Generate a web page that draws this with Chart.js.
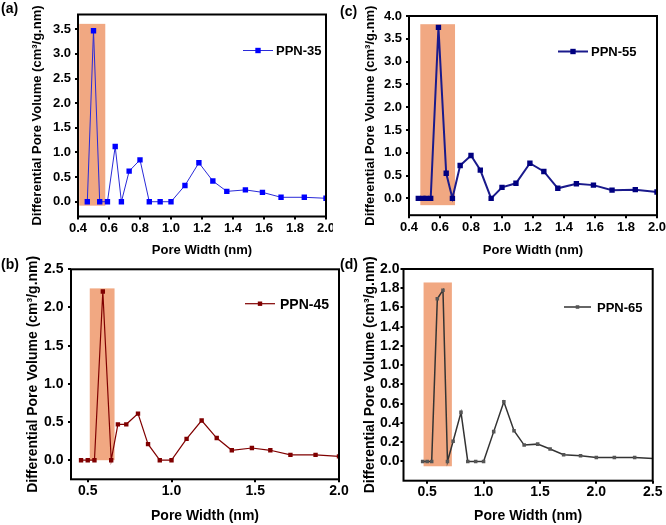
<!DOCTYPE html>
<html>
<head>
<meta charset="utf-8">
<script src="https://cdn.jsdelivr.net/npm/chart.js@4.4.0/dist/chart.umd.min.js"></script>
<style>
  body { margin: 0; background: #fff; }
  #wrap { position: relative; width: 666px; height: 525px; overflow: hidden; background: #fff; }
  canvas { position: absolute; }
  .tag { position: absolute; font: bold 14px "Liberation Sans", Arial, sans-serif; color: #000; }
</style>
</head>
<body>
<div id="wrap">
  <canvas id="chartA" width="333" height="262" style="left:0px;top:0px"></canvas>
  <canvas id="chartC" width="333" height="262" style="left:333px;top:0px"></canvas>
  <canvas id="chartB" width="350" height="275" style="left:0px;top:250px"></canvas>
  <canvas id="chartD" width="326" height="275" style="left:340px;top:250px"></canvas>
  <div class="tag" style="left:1px;top:0px">(a)</div>
  <div class="tag" style="left:340px;top:3px">(c)</div>
  <div class="tag" style="left:1px;top:256px">(b)</div>
  <div class="tag" style="left:340px;top:256px">(d)</div>
</div>
<script>
// pore widths (nm) and differential pore volume (cm3/g.nm)
const widthA = [0.46, 0.50, 0.54, 0.59, 0.64, 0.68, 0.73, 0.80, 0.86, 0.93, 1.00, 1.09, 1.18, 1.27, 1.36, 1.48, 1.59, 1.71, 1.86, 2.00];
const volA = [0, 3.47, 0, 0, 1.12, 0, 0.62, 0.85, 0, 0, 0, 0.33, 0.79, 0.42, 0.21, 0.24, 0.19, 0.09, 0.09, 0.07];

const widthB = [0.46, 0.50, 0.54, 0.59, 0.64, 0.68, 0.73, 0.80, 0.86, 0.93, 1.00, 1.09, 1.18, 1.27, 1.36, 1.48, 1.59, 1.71, 1.86, 2.00];
const volB = [0, 0, 0, 2.21, 0, 0.47, 0.47, 0.61, 0.21, 0, 0, 0.28, 0.52, 0.29, 0.13, 0.16, 0.13, 0.07, 0.07, 0.05];

const widthC = [0.46, 0.49, 0.51, 0.54, 0.59, 0.64, 0.68, 0.73, 0.80, 0.86, 0.93, 1.00, 1.09, 1.18, 1.27, 1.36, 1.48, 1.59, 1.71, 1.86, 2.00];
const volC = [0, 0, 0, 0, 3.75, 0.55, 0, 0.72, 0.94, 0.62, 0, 0.24, 0.33, 0.77, 0.59, 0.22, 0.32, 0.29, 0.18, 0.19, 0.14];

const widthD = [0.46, 0.50, 0.54, 0.59, 0.64, 0.68, 0.73, 0.80, 0.86, 0.93, 1.00, 1.09, 1.18, 1.27, 1.36, 1.48, 1.59, 1.71, 1.86, 2.00, 2.16, 2.34, 2.53];
const volD = [0, 0, 0, 1.69, 1.78, 0, 0.21, 0.51, 0, 0, 0, 0.31, 0.62, 0.32, 0.17, 0.18, 0.13, 0.07, 0.06, 0.04, 0.04, 0.04, 0.03];

// highlighted micropore range [xFrom, xTo, yFrom, yTo]
const boxA = [0.408, 0.576, -0.08, 3.61];
const boxB = [0.512, 0.66, 0, 2.25];
const boxC = [0.473, 0.697, -0.15, 3.82];
const boxD = [0.468, 0.719, -0.05, 1.86];

// tick labels
const ticksXA = [0.4, 0.6, 0.8, 1.0, 1.2, 1.4, 1.6, 1.8, 2.0];
const ticksYA = [0, 0.5, 1.0, 1.5, 2.0, 2.5, 3.0, 3.5];
const ticksXC = [0.4, 0.6, 0.8, 1.0, 1.2, 1.4, 1.6, 1.8, 2.0];
const ticksYC = [0, 0.5, 1.0, 1.5, 2.0, 2.5, 3.0, 3.5, 4.0];
const ticksXB = [0.5, 1.0, 1.5, 2.0];
const ticksYB = [0, 0.5, 1.0, 1.5, 2.0, 2.5];
const ticksXD = [0.5, 1.0, 1.5, 2.0, 2.5];
const ticksYD = [0, 0.2, 0.4, 0.6, 0.8, 1.0, 1.2, 1.4, 1.6, 1.8, 2.0];

const FONT = '"Liberation Sans", Arial, sans-serif';
const BOX_COLOR = 'rgb(241,168,130)';
const X_TITLE = 'Pore Width (nm)';
const Y_TITLE = 'Differential Pore Volume (cm\u00B3/g.nm)';

function makePanel(id, p) {
    const font = { family: FONT, size: p.fs, weight: 'bold', lineHeight: 1.2 };
    const half = p.fs * 0.6;

    // orange box, frame and legend (legend given in page coords)
    const deco = {
        id: 'deco_' + id,
        beforeDatasetsDraw(chart) {
            const { ctx, scales: { x, y } } = chart;
            const x0 = x.getPixelForValue(p.box[0]);
            const x1 = x.getPixelForValue(p.box[1]);
            const y0 = y.getPixelForValue(p.box[3]);
            const y1 = y.getPixelForValue(p.box[2]);
            ctx.save();
            ctx.fillStyle = BOX_COLOR;
            ctx.fillRect(x0, y0, x1 - x0, y1 - y0);
            ctx.restore();
        },
        afterDraw(chart) {
            const { ctx, chartArea: a } = chart;
            ctx.save();
            ctx.strokeStyle = '#000';
            ctx.lineWidth = 2;
            ctx.strokeRect(a.left, a.top, a.right - a.left, a.bottom - a.top);

            const lg = p.leg;
            const ly = lg.y - p.cy;
            ctx.strokeStyle = p.line;
            ctx.lineWidth = p.lw;
            ctx.beginPath();
            ctx.moveTo(lg.x0 - p.cx, ly);
            ctx.lineTo(lg.x1 - p.cx, ly);
            ctx.stroke();
            const s = p.r * Math.SQRT2;
            ctx.fillStyle = p.marker;
            ctx.fillRect((lg.x0 + lg.x1) / 2 - p.cx - s / 2, ly - s / 2, s, s);
            ctx.fillStyle = '#000';
            ctx.font = 'bold ' + lg.fs + 'px ' + FONT;
            ctx.textBaseline = 'middle';
            ctx.fillText(p.label, lg.tx - p.cx, ly + 1);
            ctx.restore();
        }
    };

    const zeroPad = (s) => { s.paddingLeft = 0; s.paddingRight = 0; s.paddingTop = 0; s.paddingBottom = 0; };

    new Chart(document.getElementById(id), {
        type: 'scatter',
        data: {
            datasets: [{
                label: p.label,
                data: p.xs.map((x, i) => ({ x: x, y: p.ys[i] })),
                showLine: true,
                borderColor: p.line,
                borderWidth: p.lw,
                backgroundColor: p.marker,
                pointBackgroundColor: p.marker,
                pointBorderWidth: 0,
                pointStyle: 'rect',
                pointRadius: p.r,
                pointHoverRadius: p.r,
                tension: 0,
            }],
        },
        options: {
            responsive: false,
            animation: false,
            devicePixelRatio: 1,
            events: [],
            layout: {
                padding: { left: 0, top: p.T - p.cy, right: p.cx + p.cw - p.R, bottom: 0 },
            },
            plugins: { legend: { display: false }, tooltip: { enabled: false } },
            scales: {
                x: {
                    type: 'linear',
                    min: p.xr[0],
                    max: p.xr[1],
                    afterBuildTicks: (s) => { s.ticks = p.tx.map(v => ({ value: v })); },
                    afterFit: (s) => { s.height = p.cy + p.ch - p.B; zeroPad(s); },
                    border: { display: false },
                    grid: { drawOnChartArea: false, drawTicks: true, tickLength: 3, color: '#000', lineWidth: 2 },
                    ticks: { font: font, color: '#000', padding: p.xpad, maxRotation: 0, autoSkip: false,
                        callback: (v) => Number(v).toFixed(1) },
                    title: { display: true, text: X_TITLE, font: font, color: '#000',
                        padding: { top: 0, bottom: p.cy + p.ch - p.xt - half } },
                },
                y: {
                    type: 'linear',
                    min: p.yr[0],
                    max: p.yr[1],
                    afterBuildTicks: (s) => { s.ticks = p.ty.map(v => ({ value: v })); },
                    afterFit: (s) => { s.width = p.L - p.cx; zeroPad(s); },
                    border: { display: false },
                    grid: { drawOnChartArea: false, drawTicks: true, tickLength: 3, color: '#000', lineWidth: 2 },
                    ticks: { font: font, color: '#000', padding: p.ypad, autoSkip: false,
                        callback: (v) => Number(v).toFixed(1) },
                    title: { display: true, text: Y_TITLE, font: font, color: '#000',
                        padding: { top: p.yt - p.cx - half, bottom: 0 } },
                },
            },
        },
        plugins: [deco],
    });
}

// (a) PPN-35
makePanel('chartA', {
    label: 'PPN-35', xs: widthA, ys: volA, box: boxA, tx: ticksXA, ty: ticksYA,
    xr: [0.4, 2.0], yr: [-0.3, 3.8],
    cx: 0, cy: 0, cw: 333, ch: 262, L: 78, R: 326, T: 14.5, B: 216.5,
    yt: 37.5, xt: 250, xpad: 1, ypad: 4, fs: 13,
    line: '#2a2ad8', lw: 1, marker: '#0000ff', r: 3.8,
    leg: { x0: 243, x1: 273, y: 50.5, tx: 276, fs: 13 },
});

// (c) PPN-55
makePanel('chartC', {
    label: 'PPN-55', xs: widthC, ys: volC, box: boxC, tx: ticksXC, ty: ticksYC,
    xr: [0.4, 2.0], yr: [-0.37, 4.0],
    cx: 333, cy: 0, cw: 333, ch: 262, L: 409, R: 657, T: 16, B: 215.2,
    yt: 370.5, xt: 250, xpad: 1, ypad: 4, fs: 13,
    line: '#1a1a8c', lw: 2, marker: '#000080', r: 3.8,
    leg: { x0: 558, x1: 588, y: 51.5, tx: 591, fs: 13 },
});

// (b) PPN-45
makePanel('chartB', {
    label: 'PPN-45', xs: widthB, ys: volB, box: boxB, tx: ticksXB, ty: ticksYB,
    xr: [0.4, 2.0], yr: [-0.25, 2.5],
    cx: 0, cy: 250, cw: 350, ch: 275, L: 71, R: 339, T: 269.3, B: 479.3,
    yt: 33, xt: 516, xpad: 0, ypad: 4.5, fs: 14,
    line: '#800000', lw: 1.2, marker: '#800000', r: 3.1,
    leg: { x0: 245, x1: 275, y: 303.7, tx: 280, fs: 14 },
});

// (d) PPN-65
makePanel('chartD', {
    label: 'PPN-65', xs: widthD, ys: volD, box: boxD, tx: ticksXD, ty: ticksYD,
    xr: [0.29, 2.5], yr: [-0.2, 2.0],
    cx: 340, cy: 250, cw: 326, ch: 275, L: 403.5, R: 652.7, T: 269, B: 480.7,
    yt: 370.5, xt: 516, xpad: 0, ypad: 1, fs: 14,
    line: '#333333', lw: 1.5, marker: '#555555', r: 2.5,
    leg: { x0: 564, x1: 591, y: 307, tx: 597, fs: 13 },
});
</script>
</body>
</html>
